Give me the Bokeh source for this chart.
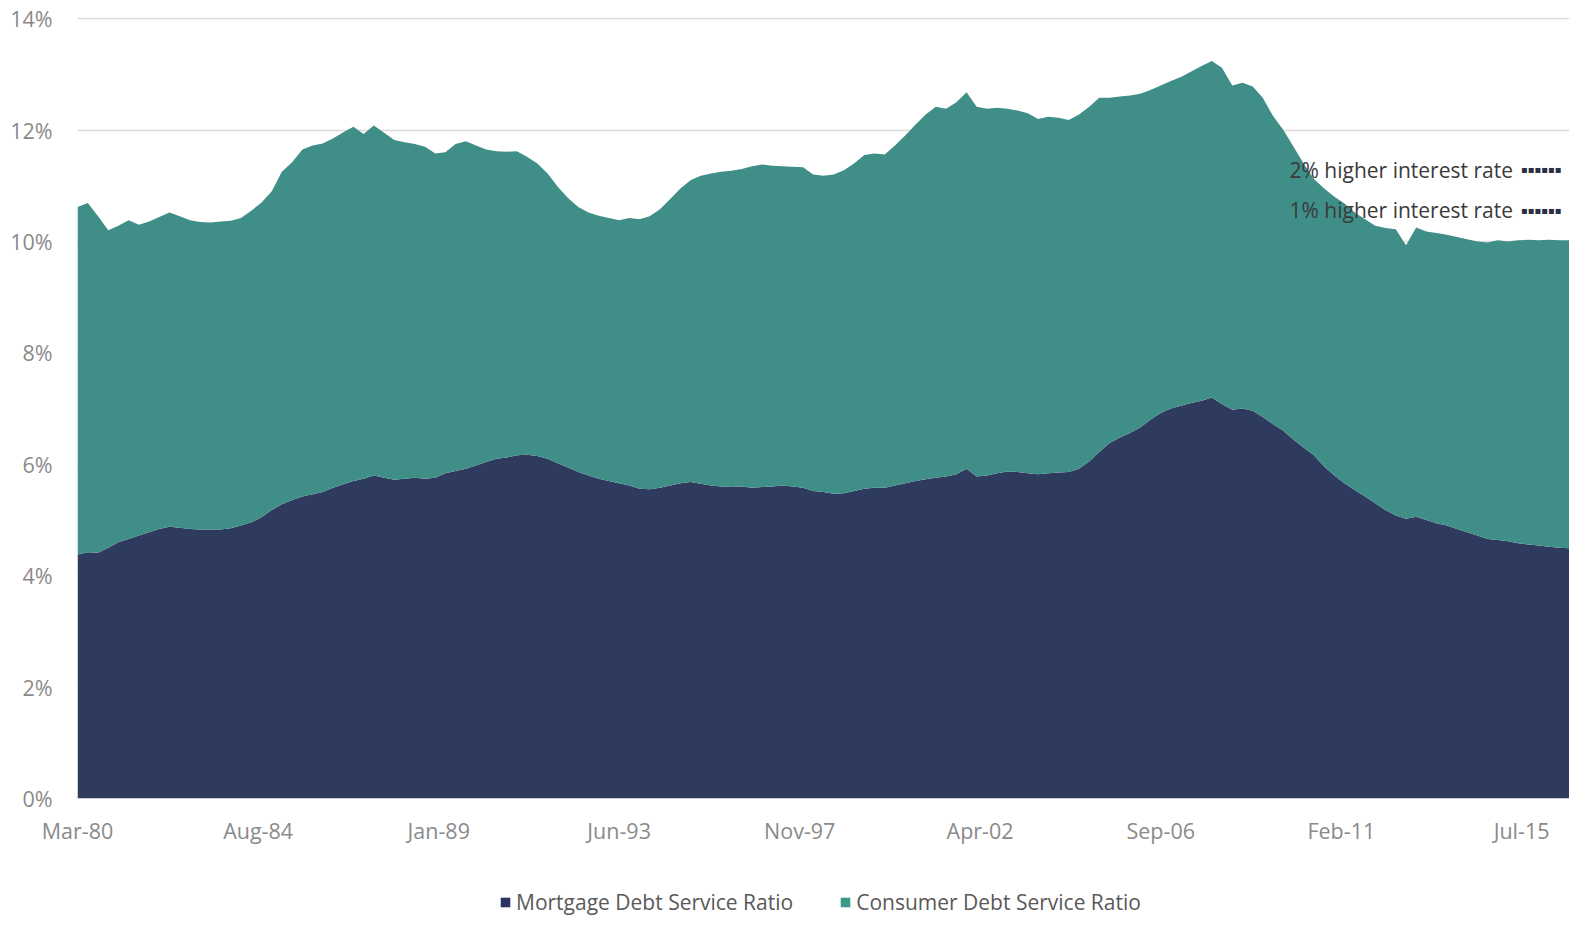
import pandas as pd
from bokeh.plotting import figure
from bokeh.layouts import column
from bokeh.models import (Range1d, FixedTicker, Legend, LegendItem, Label,
                          ColumnDataSource, DatetimeTickFormatter)
from bokeh.embed import file_html
from bokeh.resources import INLINE

# ---------------- data (quarterly, % of disposable income) ----------------
first_quarter = "1980-03-01"

mortgage = [
    4.38, 4.42, 4.41, 4.50, 4.60, 4.66, 4.72, 4.78, 4.84, 4.88,
    4.86, 4.84, 4.83, 4.83, 4.83, 4.85, 4.90, 4.96, 5.05, 5.18,
    5.28, 5.36, 5.42, 5.46, 5.50, 5.58, 5.64, 5.70, 5.74, 5.80,
    5.76, 5.72, 5.74, 5.76, 5.74, 5.76, 5.84, 5.88, 5.92, 5.98,
    6.04, 6.10, 6.12, 6.16, 6.17, 6.15, 6.10, 6.02, 5.94, 5.86,
    5.80, 5.74, 5.70, 5.66, 5.62, 5.56, 5.55, 5.58, 5.62, 5.66,
    5.68, 5.65, 5.62, 5.60, 5.59, 5.60, 5.58, 5.59, 5.60, 5.62,
    5.60, 5.58, 5.52, 5.50, 5.47, 5.48, 5.52, 5.56, 5.58, 5.58,
    5.62, 5.66, 5.70, 5.73, 5.76, 5.78, 5.82, 5.92, 5.78, 5.80,
    5.84, 5.87, 5.86, 5.84, 5.82, 5.84, 5.85, 5.86, 5.92, 6.05,
    6.22, 6.38, 6.48, 6.56, 6.66, 6.80, 6.92, 7.00, 7.05, 7.10,
    7.14, 7.20, 7.08, 6.98, 7.00, 6.96, 6.85, 6.72, 6.60, 6.44,
    6.30, 6.16, 5.96, 5.80, 5.66, 5.54, 5.42, 5.30, 5.18, 5.08,
    5.02, 5.06, 5.00, 4.94, 4.90, 4.84, 4.78, 4.72, 4.66, 4.64,
    4.62, 4.58, 4.56, 4.54, 4.52, 4.50, 4.49,
]

consumer = [
    6.24, 6.27, 6.04, 5.70, 5.68, 5.72, 5.58, 5.58, 5.60, 5.64,
    5.59, 5.54, 5.52, 5.51, 5.53, 5.52, 5.52, 5.59, 5.65, 5.72,
    5.97, 6.06, 6.23, 6.26, 6.26, 6.27, 6.32, 6.36, 6.19, 6.28,
    6.19, 6.10, 6.04, 5.99, 5.96, 5.82, 5.76, 5.87, 5.88, 5.74,
    5.61, 5.52, 5.49, 5.46, 5.35, 5.25, 5.12, 4.96, 4.84, 4.76,
    4.72, 4.72, 4.72, 4.72, 4.80, 4.84, 4.90, 5.00, 5.14, 5.29,
    5.42, 5.53, 5.60, 5.65, 5.68, 5.70, 5.77, 5.79, 5.76, 5.73,
    5.74, 5.75, 5.68, 5.68, 5.73, 5.80, 5.88, 5.99, 6.00, 5.98,
    6.10, 6.24, 6.40, 6.55, 6.66, 6.60, 6.68, 6.76, 6.64, 6.58,
    6.56, 6.51, 6.49, 6.46, 6.38, 6.40, 6.37, 6.32, 6.36, 6.37,
    6.36, 6.20, 6.12, 6.06, 5.99, 5.92, 5.88, 5.88, 5.90, 5.95,
    6.01, 6.04, 6.04, 5.82, 5.85, 5.82, 5.73, 5.53, 5.40, 5.26,
    5.10, 4.96, 4.99, 5.00, 5.02, 4.98, 4.98, 4.98, 5.06, 5.14,
    4.91, 5.19, 5.18, 5.21, 5.22, 5.24, 5.26, 5.28, 5.32, 5.38,
    5.38, 5.44, 5.47, 5.48, 5.51, 5.52, 5.53,
]

series_names = ["Mortgage Debt Service Ratio", "Consumer Debt Service Ratio"]
x_tick_labels = ["Mar-80", "Aug-84", "Jan-89", "Jun-93", "Nov-97",
                 "Apr-02", "Sep-06", "Feb-11", "Jul-15"]
y_ticks = [0, 2, 4, 6, 8, 10, 12, 14]
scenario_labels = ["2% higher interest rate", "1% higher interest rate"]
scenario_y = [11.29, 10.56]
scenario_anchor = "2015-03-01"

# ---------------- build ----------------
NAVY = "#2f3a5f"
TEAL = "#3f8f88"
LEG_NAVY = "#2c3364"
LEG_TEAL = "#3a9a8a"
FONT = "Open Sans"
W = 1569

dates = pd.date_range(first_quarter, periods=len(mortgage), freq="3MS")
src = ColumnDataSource(dict(date=dates, mortgage=mortgage, consumer=consumer))

def ms(ts):
    return (pd.Timestamp(ts) - pd.Timestamp("1970-01-01")) // pd.Timedelta(milliseconds=1)

tick_ms = [ms(pd.to_datetime(t, format="%b-%y")) for t in x_tick_labels]

p = figure(width=W, height=860, x_axis_type="datetime",
           x_range=Range1d(dates[0], dates[-1]), y_range=Range1d(0, 14.02),
           output_backend="svg", toolbar_location=None,
           min_border_left=77, min_border_right=0, min_border_top=17,
           min_border_bottom=62, outline_line_color=None,
           background_fill_color="white", border_fill_color="white")

rs = p.varea_stack(["mortgage", "consumer"], x="date", source=src,
                   color=[NAVY, TEAL])

# axes
p.xaxis.ticker = FixedTicker(ticks=tick_ms)
fmt = "%b-%y"
p.xaxis.formatter = DatetimeTickFormatter(
    milliseconds=fmt, seconds=fmt, minsec=fmt, minutes=fmt, hourmin=fmt,
    hours=fmt, days=fmt, months=fmt, years=fmt)
p.yaxis.ticker = FixedTicker(ticks=y_ticks)
p.yaxis.major_label_overrides = {t: f"{t}%" for t in y_ticks}
for ax in (p.xaxis, p.yaxis):
    ax.axis_line_color = None
    ax.major_tick_line_color = None
    ax.minor_tick_line_color = None
    ax.major_label_text_font = FONT
    ax.major_label_text_font_size = "21.5px"
    ax.major_label_text_color = "#8a8a8a"
p.xaxis.major_label_standoff = 11
p.yaxis.major_label_standoff = 19

p.xgrid.visible = False
p.ygrid.ticker = FixedTicker(ticks=y_ticks)
p.ygrid.grid_line_color = "#d9d9d9"
p.ygrid.grid_line_width = 1.3

# scenario annotations with dotted markers
for txt, yv in zip(scenario_labels, scenario_y):
    p.add_layout(Label(x=pd.Timestamp(scenario_anchor), y=yv, text=txt,
                       x_offset=5, text_align="right", text_baseline="middle",
                       text_font=FONT, text_font_size="21px", text_color="#3a3a3a"))
    p.add_layout(Label(x=pd.Timestamp(scenario_anchor), y=yv, text="\u25aa" * 6,
                       x_offset=13, text_align="left", text_baseline="middle",
                       text_font="DejaVu Sans", text_font_size="10px",
                       text_color="#2b2f45"))

# legend strip at the bottom of the page
leg = figure(width=W, height=56, output_backend="svg", toolbar_location=None,
             x_range=Range1d(0, 1), y_range=Range1d(0, 1),
             min_border=0, outline_line_color=None,
             background_fill_color="white", border_fill_color="white")
leg.axis.visible = False
leg.grid.visible = False
# zero-area stand-ins that only carry the legend swatch colours
dummy = [leg.varea(x=[0], y1=[0], y2=[0], color=c) for c in (LEG_NAVY, LEG_TEAL)]
legend = Legend(items=[LegendItem(label=n, renderers=[r]) for n, r in zip(series_names, dummy)],
                orientation="horizontal", location=(422, 0),
                glyph_width=12, glyph_height=12, label_standoff=5, spacing=46,
                padding=0, margin=0, border_line_color=None,
                background_fill_alpha=0,
                label_text_font=FONT, label_text_font_size="21px",
                label_text_color="#595959")
leg.add_layout(legend, "center")

open("out.html", "w").write(file_html(column(p, leg, spacing=0), INLINE))
